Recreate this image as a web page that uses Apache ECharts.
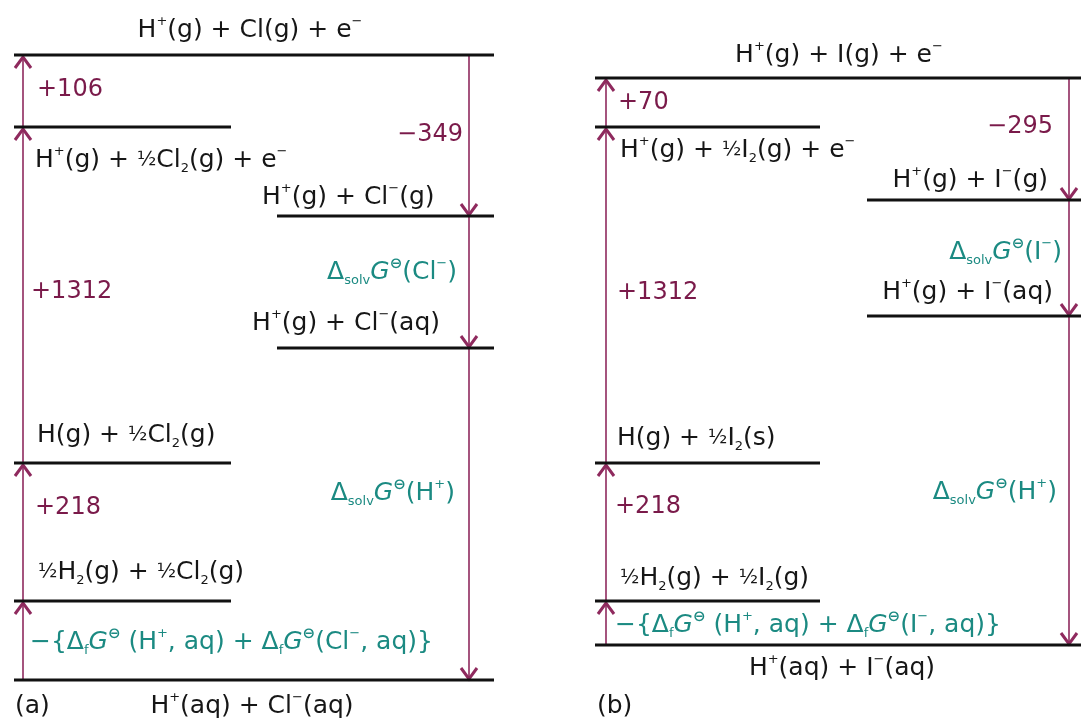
<!DOCTYPE html>
<html>
<head>
<meta charset="utf-8">
<script src="https://cdn.jsdelivr.net/npm/echarts@6/dist/echarts.min.js"></script>
<style>
html,body{margin:0;padding:0;background:#fff;}
#chart{width:1081px;height:721px;}
</style>
</head>
<body>
<div id="chart"></div>
<script>
// ---------- DATA (schematic, not to scale) ----------
// Panel (a): HCl cycle
const levelNamesA = [
  'H{p|+}(g) + Cl(g) + e{p|−}',
  'H{p|+}(g) + {h|½}Cl{s|2}(g) + e{p|−}',
  'H{p|+}(g) + Cl{p|−}(g)',
  'H{p|+}(g) + Cl{p|−}(aq)',
  'H(g) + {h|½}Cl{s|2}(g)',
  '{h|½}H{s|2}(g) + {h|½}Cl{s|2}(g)',
  'H{p|+}(aq) + Cl{p|−}(aq)'
];
const levelHeightsA = [625, 553, 464, 332, 217, 79, 0];
const levelColumnsA = ['full', 'left', 'right', 'right', 'left', 'left', 'full'];
const upChainA = [6, 5, 4, 1, 0];
const upLabelsA = [
  '−{t|{}Δ{s|f}{i|G}{o|⊖} (H{p|+}, aq) + Δ{s|f}{i|G}{o|⊖}(Cl{p|−}, aq)}',
  '+218', '+1312', '+106'
];
const upKindsA = ['teal', 'num', 'num', 'num'];
const downChainA = [0, 2, 3, 6];
const downLabelsA = ['−349', 'Δ{s|solv}{i|G}{o|⊖}(Cl{p|−})', 'Δ{s|solv}{i|G}{o|⊖}(H{p|+})'];
const downKindsA = ['num', 'teal', 'teal'];

// Panel (b): HI cycle
const levelNamesB = [
  'H{p|+}(g) + I(g) + e{p|−}',
  'H{p|+}(g) + {h|½}I{s|2}(g) + e{p|−}',
  'H{p|+}(g) + I{p|−}(g)',
  'H{p|+}(g) + I{p|−}(aq)',
  'H(g) + {h|½}I{s|2}(s)',
  '{h|½}H{s|2}(g) + {h|½}I{s|2}(g)',
  'H{p|+}(aq) + I{p|−}(aq)'
];
const levelHeightsB = [567, 518, 445, 329, 182, 44, 0];
const levelColumnsB = ['full', 'left', 'right', 'right', 'left', 'left', 'full'];
const upChainB = [6, 5, 4, 1, 0];
const upLabelsB = [
  '−{t|{}Δ{s|f}{i|G}{o|⊖} (H{p|+}, aq) + Δ{s|f}{i|G}{o|⊖}(I{p|−}, aq)}',
  '+218', '+1312', '+70'
];
const upKindsB = ['teal', 'num', 'num', 'num'];
const downChainB = [0, 2, 3, 6];
const downLabelsB = ['−295', 'Δ{s|solv}{i|G}{o|⊖}(I{p|−})', 'Δ{s|solv}{i|G}{o|⊖}(H{p|+})'];
const downKindsB = ['num', 'teal', 'teal'];

const panelTags = ['(a)', '(b)'];

// ---------- LAYOUT ----------
const layoutA = {
  grid: {left: 14, top: 0, width: 480, height: 680},
  xMax: 480, yMax: 680,
  cols: {full: [0, 480], left: [0, 217], right: [263, 480]},
  upX: 9, downX: 455,
  levelLabelPos: [[236, 650, 'center'], [21, 520, 'left'], [248, 483, 'left'], [426, 357, 'right'],
                  [23, 245, 'left'], [24, 108, 'left'], [238, -26, 'center']],
  upLabelPos: [[16, 38, 'left'], [21, 172, 'left'], [17, 388, 'left'], [23, 590, 'left']],
  downLabelPos: [[449, 545, 'right'], [443, 408, 'right'], [441, 187, 'right']],
  tagPos: [1, -26]
};
const layoutB = {
  grid: {left: 595, top: 0, width: 486, height: 645},
  xMax: 486, yMax: 645,
  cols: {full: [0, 486], left: [0, 225], right: [272, 486]},
  upX: 11, downX: 474,
  levelLabelPos: [[244, 590, 'center'], [25, 495, 'left'], [453, 465, 'right'], [458, 353, 'right'],
                  [22, 207, 'left'], [25, 67, 'left'], [247, -23, 'center']],
  upLabelPos: [[20, 20, 'left'], [20, 138, 'left'], [22, 352, 'left'], [23, 542, 'left']],
  downLabelPos: [[458, 518, 'right'], [467, 393, 'right'], [462, 153, 'right']],
  tagPos: [2, -61]
};

const FONT = 'DejaVu Sans';
const COLORS = {text: '#161616', num: '#7a1a4a', teal: '#1b8a82', arrow: '#8f2a5e', level: '#111111'};
const SIZES = {text: 25, teal: 25, num: 24};

function richFor(color, fs) {
  return {
    p: {fontSize: 13, lineHeight: 13, verticalAlign: 'top', fontFamily: FONT, fill: color},
    o: {fontSize: 15, lineHeight: 15, verticalAlign: 'top', fontWeight: 'bold', fontFamily: FONT, fill: color},
    s: {fontSize: 13, lineHeight: 13, verticalAlign: 'bottom', fontFamily: FONT, fill: color},
    h: {fontSize: 20, lineHeight: 30, fontFamily: FONT, fill: color},
    i: {fontSize: fs, lineHeight: 30, fontStyle: 'italic', fontFamily: FONT, fill: color},
    t: {fontSize: fs, lineHeight: 30, fontFamily: FONT, fill: color}
  };
}

function buildPanel(gi, L, names, heights, cols, upChain, upLabels, upKinds, downChain, downLabels, downKinds, tag) {
  const series = [];
  // levels
  series.push({
    type: 'custom', xAxisIndex: gi, yAxisIndex: gi, silent: true, animation: false, z: 3,
    data: heights.map((h, i) => [L.cols[cols[i]][0], L.cols[cols[i]][1], h]),
    renderItem(params, api) {
      const a = api.coord([api.value(0), api.value(2)]);
      const b = api.coord([api.value(1), api.value(2)]);
      return {type: 'line', shape: {x1: a[0], y1: a[1], x2: b[0], y2: b[1]},
              style: {stroke: COLORS.level, lineWidth: 3}};
    }
  });
  // arrows
  const arrowData = [];
  for (let k = 0; k < upChain.length - 1; k++) arrowData.push([L.upX, heights[upChain[k]], heights[upChain[k + 1]]]);
  for (let k = 0; k < downChain.length - 1; k++) arrowData.push([L.downX, heights[downChain[k]], heights[downChain[k + 1]]]);
  series.push({
    type: 'custom', xAxisIndex: gi, yAxisIndex: gi, silent: true, animation: false, z: 2,
    data: arrowData,
    renderItem(params, api) {
      const p0 = api.coord([api.value(0), api.value(1)]);
      const p1 = api.coord([api.value(0), api.value(2)]);
      const dir = p1[1] < p0[1] ? 1 : -1;
      const tipY = p1[1] + (dir > 0 ? 2 : -1);
      return {
        type: 'group',
        children: [
          {type: 'line', shape: {x1: p0[0], y1: p0[1], x2: p1[0], y2: p1[1]},
           style: {stroke: COLORS.arrow, lineWidth: 1.6}},
          {type: 'polyline', shape: {points: [[p1[0] - 8, tipY + dir * 11], [p1[0], tipY], [p1[0] + 8, tipY + dir * 11]]},
           style: {stroke: COLORS.arrow, lineWidth: 3, fill: null}}
        ]
      };
    }
  });
  // labels
  const texts = [], pos = [], kinds = [];
  names.forEach((n, i) => { texts.push(n); pos.push(L.levelLabelPos[i]); kinds.push('text'); });
  upLabels.forEach((n, i) => { texts.push(n); pos.push(L.upLabelPos[i]); kinds.push(upKinds[i]); });
  downLabels.forEach((n, i) => { texts.push(n); pos.push(L.downLabelPos[i]); kinds.push(downKinds[i]); });
  texts.push(tag); pos.push([L.tagPos[0], L.tagPos[1], 'left']); kinds.push('text');
  series.push({
    type: 'custom', xAxisIndex: gi, yAxisIndex: gi, silent: true, animation: false, z: 4,
    data: pos.map(p => [p[0], p[1]]),
    renderItem(params, api) {
      const i = params.dataIndex;
      const c = api.coord([api.value(0), api.value(1)]);
      const color = COLORS[kinds[i]];
      const fs = SIZES[kinds[i]];
      return {
        type: 'text', x: c[0], y: c[1],
        style: {
          text: texts[i], fill: color, fontSize: fs, fontFamily: FONT, lineHeight: 30,
          align: pos[i][2], verticalAlign: 'middle', rich: richFor(color, fs)
        }
      };
    }
  });
  return series;
}

const chart = echarts.init(document.getElementById('chart'), null, {renderer: 'canvas'});
const layouts = [layoutA, layoutB];
chart.setOption({
  backgroundColor: '#ffffff',
  animation: false,
  grid: layouts.map(L => Object.assign({containLabel: false}, L.grid)),
  xAxis: layouts.map((L, i) => ({type: 'value', gridIndex: i, min: 0, max: L.xMax, show: false})),
  yAxis: layouts.map((L, i) => ({type: 'value', gridIndex: i, min: 0, max: L.yMax, show: false})),
  series: [].concat(
    buildPanel(0, layoutA, levelNamesA, levelHeightsA, levelColumnsA, upChainA, upLabelsA, upKindsA,
               downChainA, downLabelsA, downKindsA, panelTags[0]),
    buildPanel(1, layoutB, levelNamesB, levelHeightsB, levelColumnsB, upChainB, upLabelsB, upKindsB,
               downChainB, downLabelsB, downKindsB, panelTags[1])
  )
});
</script>
</body>
</html>
